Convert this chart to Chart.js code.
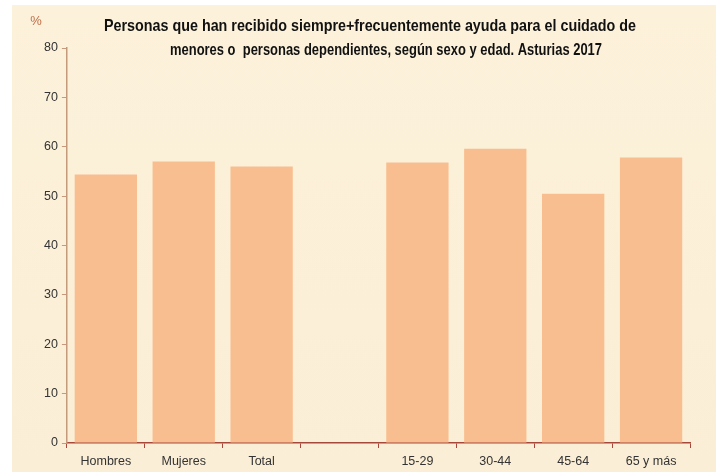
<!DOCTYPE html>
<html>
<head>
<meta charset="utf-8">
<script src="https://cdn.jsdelivr.net/npm/chart.js@4/dist/chart.umd.min.js"></script>
<style>
  html, body { margin: 0; padding: 0; background: #ffffff; }
  #wrap { width: 716px; height: 472px; position: relative; }
</style>
</head>
<body>
<div id="wrap"><canvas id="grafico" width="716" height="472"></canvas></div>
<script>
// datos
const categorias = ["Hombres", "Mujeres", "Total", "", "15-29", "30-44", "45-64", "65 y más"];
const valores = [54.4, 57.0, 56.0, null, 56.8, 59.6, 50.5, 57.8];
const titulo = [
    "Personas que han recibido siempre+frecuentemente ayuda para el cuidado de",
    "menores o  personas dependientes, según sexo y edad. Asturias 2017"
];
const unidad = "%";

// fondo crema + titulo
const fondo = {
    id: "fondo",
    beforeDraw(chart) {
        const ctx = chart.ctx;
        ctx.save();
        ctx.fillStyle = "#ffffff";
        ctx.fillRect(0, 0, chart.width, chart.height);
        const g = ctx.createLinearGradient(0, 0, 0, chart.height);
        g.addColorStop(0, "#fcf1da");
        g.addColorStop(1, "#fbeed6");
        ctx.fillStyle = g;
        ctx.fillRect(12, 5, chart.width - 12, chart.height - 5);
        ctx.restore();
    },
    afterDraw(chart) {
        const ctx = chart.ctx;
        ctx.save();
        ctx.fillStyle = "#111111";
        ctx.font = "bold 17px 'Liberation Sans', Arial, sans-serif";
        ctx.textAlign = "center";
        ctx.textBaseline = "middle";
        ctx.fillText(titulo[0], 370, 26, 532);
        ctx.fillText(titulo[1], 386, 50, 432);
        ctx.fillStyle = "#c0704a";
        ctx.font = "13px 'Liberation Sans', Arial, sans-serif";
        ctx.fillText(unidad, 36, 21);
        ctx.restore();
    }
};

new Chart(document.getElementById("grafico"), {
    type: "bar",
    data: {
        labels: categorias,
        datasets: [{
            data: valores,
            backgroundColor: "#f9be8f",
            borderWidth: 0,
            categoryPercentage: 1.0,
            barPercentage: 0.8
        }]
    },
    options: {
        responsive: false,
        animation: false,
        layout: { padding: { left: 40, right: 26, top: 48, bottom: -3 } },
        plugins: {
            legend: { display: false },
            tooltip: { enabled: false }
        },
        scales: {
            x: {
                grid: {
                    display: true,
                    drawOnChartArea: false,
                    offset: true,
                    tickLength: 5,
                    color: "#a8483a"
                },
                border: { color: "#a8483a", width: 1.5 },
                ticks: {
                    color: "#333333",
                    font: { family: "'Liberation Sans', Arial, sans-serif", size: 12.5 },
                    padding: 6,
                    maxRotation: 0
                }
            },
            y: {
                min: 0,
                max: 80,
                ticks: {
                    stepSize: 10,
                    color: "#333333",
                    font: { family: "'Liberation Sans', Arial, sans-serif", size: 12.5 },
                    padding: 4
                },
                grid: {
                    display: true,
                    drawOnChartArea: false,
                    tickLength: 5,
                    color: "#c49a7a"
                },
                border: { color: "#c49a7a", width: 1.5 }
            }
        }
    },
    plugins: [fondo]
});
</script>
</body>
</html>
